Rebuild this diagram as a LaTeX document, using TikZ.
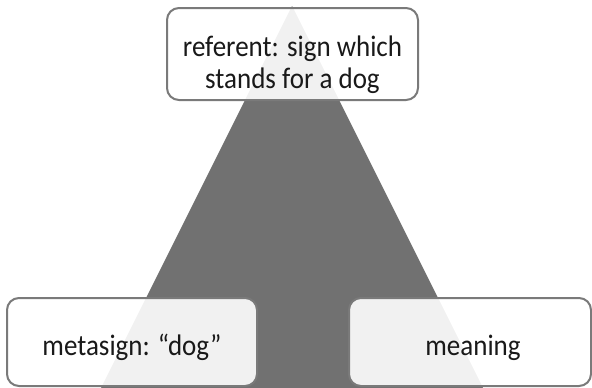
\documentclass[tikz,border=0pt]{standalone}
\usepackage{fontspec}
\setmainfont{Carlito}
\newcommand{\tallstr}[1]{\scalebox{1}[1.1]{#1}}
\begin{document}
\begin{tikzpicture}[x=1pt,y=-1pt,
  tri/.style={fill=triGray,draw=none},
  box/.style={draw=edgeGray,line width=2pt,rounded corners=12pt,fill=white,fill opacity=0.9,inner sep=0pt},
  lbl/.style={font=\fontsize{27}{32}\selectfont,text=black!90,inner sep=0pt}]
\definecolor{triGray}{HTML}{717171}
\definecolor{edgeGray}{HTML}{7A7A7A}
\useasboundingbox (0,0) rectangle (592,388);
\begin{scope}
\clip (0,0) rectangle (592,388);
% dark triangle behind the three boxes
\coordinate (apex) at (292,6);
\coordinate (bl) at (92,406);
\coordinate (br) at (492,406);
\fill[tri] (apex) -- (bl) -- (br) -- cycle;
% boxes
\node[box,minimum width=251pt,minimum height=92pt] (refbox) at (292.5,54) {};
\node[box,minimum width=250pt,minimum height=88pt] (metabox) at (132,342) {};
\node[box,minimum width=242pt,minimum height=88pt] (meanbox) at (470,342) {};
\end{scope}
% texts
\node[lbl,anchor=base] (reftext1) at (292.5,56) {\tallstr{referent: sign which}};
\node[lbl,anchor=base] (reftext2) at (292.5,88) {\tallstr{stands for a dog}};
\node[lbl,anchor=base] (metatext) at (132,355) {\tallstr{metasign: “dog”}};
\node[lbl,anchor=base] (meantext) at (473,355) {\tallstr{meaning}};
\end{tikzpicture}
\end{document}
